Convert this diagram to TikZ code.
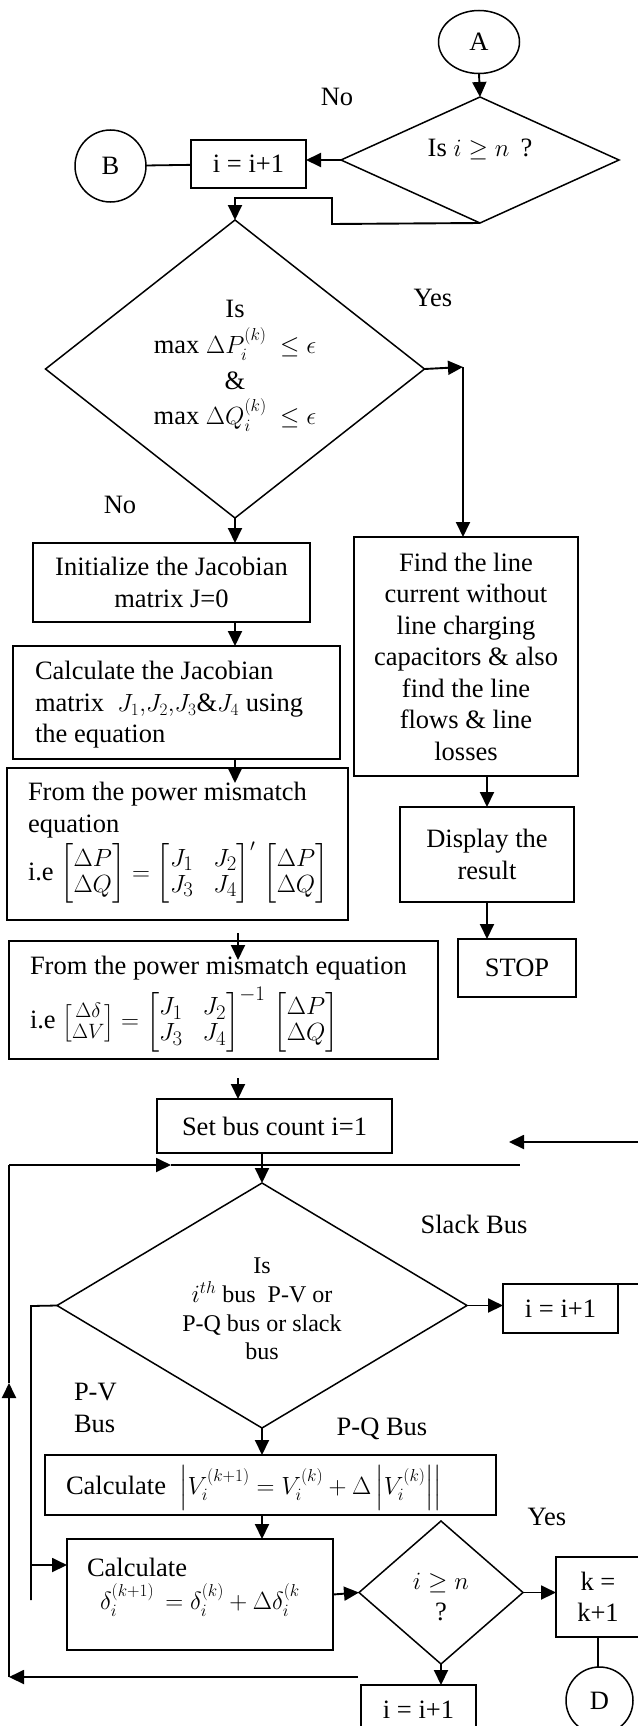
\documentclass[tikz,border=0pt]{standalone}
\usepackage{amsmath}
\usepackage{fontspec}
\setmainfont{Liberation Serif}
\usetikzlibrary{arrows.meta,shapes.geometric}
\newcommand\myfs{\fontsize{26.5}{31.5}\selectfont}
\newcommand\matfs{\fontsize{24.88}{26}\selectfont}
\newcommand\smatfs{\fontsize{20.74}{20.5}\selectfont}
\tikzset{
  box/.style={draw, line width=1.5pt, inner sep=0pt, outer sep=0pt},
  dia/.style={draw, diamond, line width=1.5pt, inner sep=0pt, outer sep=0pt},
  ell/.style={draw, ellipse, line width=1.5pt, inner sep=0pt, outer sep=0pt},
  arr/.style={line width=1.9pt, -{Triangle[length=15pt,width=14pt]}},
  ln/.style={line width=1.8pt},
  lbl/.style={inner sep=0pt, outer sep=0pt},
}
\begin{document}
\begin{tikzpicture}[x=1pt, y=-1pt, font=\myfs]
\useasboundingbox (0,0) rectangle (637,1726);
\fill[white] (0,0) rectangle (637,1726);

% ---------- top part ----------
\node[ell, minimum width=81pt, minimum height=63pt] (A) at (479,42) {A};
\node[lbl] (no1) at (337,97) {No};
\node[dia, minimum width=278pt, minimum height=126pt] (d1) at (480,160) {};
\node[lbl] (d1t) at (480,149) {Is $i \geq n$\, ?};
\node[box, minimum width=115pt, minimum height=48pt] (i1) at (248.5,164) {i = i+1};
\node[ell, minimum width=71pt, minimum height=72pt] (B) at (110.5,166) {B};
\draw[arr] (A.south) -- (d1.north);
\draw[arr] (d1.west) -- (d1.west -| i1.east);
\draw[ln] (B) -- (i1);

\node[dia, minimum width=379pt, minimum height=298pt] (d2) at (235,369) {};
\node[lbl, align=center, font=\fontsize{26.5}{35.7}\selectfont] (d2t) at (235,366)
  {Is\\ max $\Delta P_i^{(k)}\ \le \epsilon$\\ \&\\ max $\Delta Q_i^{(k)}\ \le \epsilon$};
\coordinate (b1) at (332,224);
\coordinate (b2) at (332,198);
\draw[arr] (d1.south) -- (b1) -- (b2) -- (b2 -| d2.north) -- (d2.north);

\node[lbl] (yes1) at (433,298) {Yes};
\node[lbl] (no2) at (120,505) {No};

% ---------- left column ----------
\node[box, minimum width=277pt, minimum height=79pt, align=center] (init) at (171.5,582.5)
  {Initialize the Jacobian\\matrix J=0};
\draw[arr] (d2.south) -- (d2.south |- init.north);

\node[box, minimum width=327pt, minimum height=113pt] (calcj) at (176.5,702.5) {};
\node[lbl, anchor=west, align=left] (calcjt) at (35,705)
  {Calculate the Jacobian\\matrix \ $J_1{,}J_2{,}J_3\&J_4$ using\\the equation};
\draw[arr] (init.south -| d2.south) -- (calcj.north -| d2.south);

\node[box, minimum width=341pt, minimum height=152pt] (mm1) at (177.5,844) {};
\node[lbl, anchor=west, align=left] (mm1t) at (28,810) {From the power mismatch\\equation};
\node[lbl, anchor=west] (mm1e) at (28,873) {i.e {\matfs\setlength{\arraycolsep}{10pt}$\left[\begin{matrix}\Delta P\\ \Delta Q\end{matrix}\right] = \left[\begin{matrix}J_1 & J_2\\ J_3 & J_4\end{matrix}\right]^{\scriptscriptstyle\prime}\,\left[\begin{matrix}\Delta P\\ \Delta Q\end{matrix}\right]$}};
\draw[arr] (calcj.south -| d2.south) -- ++(0,24);

% ---------- right column ----------
\node[box, minimum width=224pt, minimum height=239pt, align=center] (find) at (466,656.5)
  {Find the line\\current without\\line charging\\capacitors \& also\\find the line\\flows \& line\\losses};
\coordinate (yc) at (463,367);
\draw[arr] (d2.east) -- (yc);
\draw[arr] (yc) -- (yc |- find.north);

\node[box, minimum width=174pt, minimum height=95pt, align=center] (disp) at (487,854.5) {Display the\\result};
\draw[arr] (find.south -| disp.north) -- (disp.north);
\node[box, minimum width=118pt, minimum height=58pt] (stop) at (517,968) {STOP};
\draw[arr] (disp.south) -- (disp.south |- stop.north);

% ---------- second mismatch ----------
\node[box, minimum width=429pt, minimum height=118pt] (mm2) at (223.5,1000) {};
\node[lbl, anchor=west] (mm2t) at (30,968) {From the power mismatch equation};
\node[lbl, anchor=west] (mm2e) at (30,1020) {i.e {\smatfs$\left[\begin{matrix}\Delta\delta\\ \Delta V\end{matrix}\right]$}{\matfs\setlength{\arraycolsep}{10pt}${} = \left[\begin{matrix}J_1 & J_2\\ J_3 & J_4\end{matrix}\right]^{-1}\,\left[\begin{matrix}\Delta P\\ \Delta Q\end{matrix}\right]$}};
\coordinate (g1) at (238,933);
\draw[arr] (g1) -- ++(0,27);

\node[box, minimum width=235pt, minimum height=54pt] (setbus) at (274.5,1126) {Set bus count i=1};
\coordinate (g2) at (238,1078);
\draw[arr] (g2) -- (g2 |- setbus.north);

% ---------- bus type decision ----------
\node[dia, minimum width=410pt, minimum height=245pt] (d3) at (262,1305.5) {};
\node[lbl, align=center, font=\fontsize{24}{28.7}\selectfont] (d3t) at (262,1309)
  {Is\\$i^{th}$ bus\ \ P-V or\\P-Q bus or slack\\bus};
\draw[arr] (setbus.south -| d3.north) -- (d3.north);

\node[lbl] (slack) at (474,1224) {Slack Bus};
\node[box, minimum width=115pt, minimum height=49pt] (i2) at (560.5,1308.5) {i = i+1};
\draw[arr] (d3.east) -- (d3.east -| i2.west);
\coordinate (i2r) at (642,1284);
\draw[ln] (i2.north east) -- (i2r);
\coordinate (r1) at (642,1142);
\coordinate (r2) at (509,1142);
\draw[arr] (r1) -- (r2);

% loop back lines
\coordinate (L1) at (9,1165);
\coordinate (L1m) at (171,1165);
\coordinate (L1e) at (520,1165);
\draw[arr] (L1) -- (L1m);
\draw[ln] (L1m) -- (L1e);
\coordinate (L0) at (9,1677);
\coordinate (L0m) at (9,1383);
\draw[arr] (L0) -- (L0m);
\draw[ln] (L0m) -- (L1);

\node[lbl, anchor=west, align=left] (pvl) at (74,1408) {P-V\\Bus};
\node[lbl] (pql) at (382,1429) {P-Q Bus};

\node[box, minimum width=451pt, minimum height=60pt] (calcv) at (270.5,1485) {};
\node[lbl, anchor=west] (calcvt) at (66,1488) {Calculate\ \ $\left|V_i^{(k+1)} = V_i^{(k)} + \Delta\left|V_i^{(k)}\right|\right|$};
\draw[arr] (d3.south) -- (d3.south |- calcv.north);

\node[box, minimum width=266pt, minimum height=111pt] (calcd) at (200,1594.5) {};
\node[lbl, anchor=west] (calcdt1) at (87,1567) {Calculate};
\node[lbl, anchor=west] (calcdt2) at (100,1600) {$\delta_i^{(k+1)}\, = \delta_i^{(k)} + \Delta\delta_i^{(k}$};
\draw[arr] (calcv.south -| d3.south) -- (calcd.north -| d3.south);

% P-V branch
\coordinate (pv1) at (31,1306);
\coordinate (pv2) at (31,1600);
\coordinate (pv3) at (31,1565);
\draw[ln] (d3.west) -- (pv1) -- (pv2);
\draw[arr] (pv3) -- (pv3 -| calcd.west);

% ---------- final decision ----------
\node[dia, minimum width=164pt, minimum height=143pt] (sd) at (441,1592.5) {};
\node[lbl, align=center] (sdt) at (441,1597) {$i \geq n$\\?};
\draw[arr] (calcd.east) -- (sd.west);
\node[lbl] (yes2) at (547,1517) {Yes};
\node[box, minimum width=84pt, minimum height=80pt, align=center] (kb) at (598,1597) {k =\\k+1};
\draw[arr] (sd.east) -- (sd.east -| kb.west);
\node[ell, minimum width=67pt, minimum height=67pt] (D) at (599.5,1700.5) {D};
\draw[ln] (kb.south) -- (kb.south |- D.north);
\node[box, minimum width=115pt, minimum height=49pt] (i3) at (418.5,1709.5) {i = i+1};
\draw[arr] (sd.south) -- (sd.south |- i3.north);
\coordinate (R0) at (358,1677);
\draw[arr] (R0) -- (L0);
\end{tikzpicture}
\end{document}
